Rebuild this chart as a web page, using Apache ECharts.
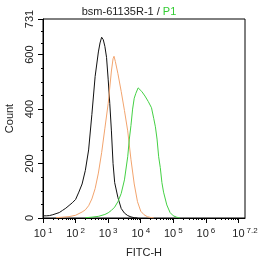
<!DOCTYPE html>
<html>
<head>
<meta charset="utf-8">
<script src="https://cdn.jsdelivr.net/npm/echarts@6/dist/echarts.min.js"></script>
<style>
  html, body { margin: 0; padding: 0; background: #fff; }
  #chart { width: 258px; height: 261px; }
</style>
</head>
<body>
<div id="chart"></div>
<script>
  // x values are log10(FITC-H), y values are counts
  var blackX = [1.0, 1.1, 1.2, 1.3, 1.4, 1.5, 1.6, 1.7, 1.8, 1.9, 2.0, 2.1, 2.2, 2.3, 2.4, 2.5, 2.6, 2.7, 2.75, 2.8, 2.85, 2.9, 2.95, 3.0, 3.05, 3.1, 3.15, 3.2, 3.3, 3.4, 3.5, 3.6, 3.7, 3.8, 3.9];
  var blackY = [8, 8, 9, 12, 16, 20, 28, 36, 46, 56, 68, 95, 125, 175, 250, 380, 520, 610, 643, 664, 655, 630, 590, 510, 420, 320, 200, 130, 75, 35, 18, 9, 4, 1, 0];

  var orangeX = [1.4, 1.6, 1.8, 2.0, 2.2, 2.3, 2.4, 2.5, 2.6, 2.7, 2.8, 2.9, 3.0, 3.1, 3.15, 3.18, 3.22, 3.3, 3.4, 3.5, 3.6, 3.7, 3.8, 3.9, 4.0, 4.1, 4.2, 4.3, 4.4];
  var orangeY = [1, 3, 5, 10, 22, 30, 45, 70, 108, 165, 240, 330, 420, 540, 585, 594, 575, 530, 465, 395, 320, 215, 125, 60, 25, 12, 5, 2, 0];

  var greenX = [2.3, 2.5, 2.7, 2.9, 3.0, 3.1, 3.2, 3.3, 3.4, 3.5, 3.6, 3.65, 3.7, 3.75, 3.8, 3.85, 3.92, 3.97, 4.03, 4.13, 4.23, 4.33, 4.4, 4.45, 4.5, 4.55, 4.6, 4.65, 4.7, 4.8, 4.9, 5.0, 5.1, 5.2];
  var greenY = [1, 3, 6, 13, 19, 28, 40, 60, 90, 140, 225, 290, 340, 400, 440, 458, 478, 472, 465, 448, 428, 405, 365, 335, 290, 225, 185, 130, 95, 48, 20, 8, 3, 0];

  var xMajorTicks = [1, 2, 3, 4, 5, 6, 7];
  var xLabelTicks = [1, 2, 3, 4, 5, 6, 7.2];
  var yLabelTicks = [0, 200, 400, 600, 731];
  var yMinorTicks = [50, 100, 150, 250, 300, 350, 450, 500, 550, 643.7, 687.3];

  // minor log ticks 2..9 inside each decade
  var xMinorTicks = [];
  for (var d = 1; d < 7; d++) {
    for (var k = 2; k <= 9; k++) {
      xMinorTicks.push(d + Math.log10(k));
    }
  }

  function pairs(xs, ys) {
    return xs.map(function (x, i) { return [x, ys[i]]; });
  }

  var font = 'Arial, "Liberation Sans", sans-serif';
  var chart = echarts.init(document.getElementById('chart'), null, { renderer: 'canvas' });

  var option = {
    animation: false,
    backgroundColor: '#fff',
    title: {
      text: '{a|bsm-61135R-1 / }{b|P1}',
      left: 'center',
      top: 1,
      textStyle: {
        fontWeight: 'normal',
        rich: {
          a: { fontFamily: font, fontSize: 11, fontWeight: 'normal', color: '#222' },
          b: { fontFamily: font, fontSize: 11, fontWeight: 'normal', color: '#33cc33' }
        }
      }
    },
    grid: {
      left: 43, right: 13, top: 19, bottom: 43,
      outerBoundsMode: 'none',
      containLabel: false,
      show: true, borderColor: '#000', borderWidth: 1
    },
    xAxis: [{
      type: 'value',
      min: 1, max: 7.2,
      position: 'bottom',
      name: 'FITC-H',
      nameLocation: 'middle',
      nameGap: 29,
      nameTextStyle: { fontFamily: font, fontSize: 11, color: '#222' },
      axisLine: { lineStyle: { color: '#000', width: 1 } },
      axisTick: { show: true, length: 5, customValues: xMajorTicks, lineStyle: { color: '#000' } },
      splitLine: { show: false },
      axisLabel: {
        customValues: xLabelTicks,
        margin: 9,
        formatter: function (v) {
          var p = Math.round(v * 10) / 10;
          return '{b|10}{s|' + p + '}';
        },
        rich: {
          b: { fontFamily: font, fontSize: 11, color: '#222' },
          s: { fontFamily: font, fontSize: 8, color: '#222', padding: [0, 0, 6, 2] }
        }
      }
    }, {
      type: 'value',
      min: 1, max: 7.2,
      position: 'bottom',
      axisLine: { show: false },
      axisTick: { show: true, length: 2, customValues: xMinorTicks, lineStyle: { color: '#000' } },
      axisLabel: { show: false },
      splitLine: { show: false }
    }],
    yAxis: [{
      type: 'value',
      min: 0, max: 731,
      position: 'left',
      name: 'Count',
      nameLocation: 'middle',
      nameGap: 28,
      nameTextStyle: { fontFamily: font, fontSize: 11, color: '#222' },
      axisLine: { show: true, lineStyle: { color: '#000', width: 1 } },
      axisTick: { show: true, length: 5, customValues: yLabelTicks, lineStyle: { color: '#000' } },
      splitLine: { show: false },
      axisLabel: {
        customValues: yLabelTicks,
        rotate: 90,
        margin: 8,
        fontFamily: font, fontSize: 11, color: '#222'
      }
    }, {
      type: 'value',
      min: 0, max: 731,
      position: 'left',
      axisLine: { show: false },
      axisTick: { show: true, length: 2, customValues: yMinorTicks, lineStyle: { color: '#000' } },
      axisLabel: { show: false },
      splitLine: { show: false }
    }],
    series: [{
      name: 'control',
      type: 'line',
      data: pairs(blackX, blackY),
      showSymbol: false,
      lineStyle: { color: '#111', width: 1 }
    }, {
      name: 'isotype',
      type: 'line',
      data: pairs(orangeX, orangeY),
      showSymbol: false,
      lineStyle: { color: '#f2a46e', width: 1 }
    }, {
      name: 'P1',
      type: 'line',
      data: pairs(greenX, greenY),
      showSymbol: false,
      lineStyle: { color: '#44d044', width: 1 }
    }]
  };

  chart.setOption(option);
</script>
</body>
</html>
